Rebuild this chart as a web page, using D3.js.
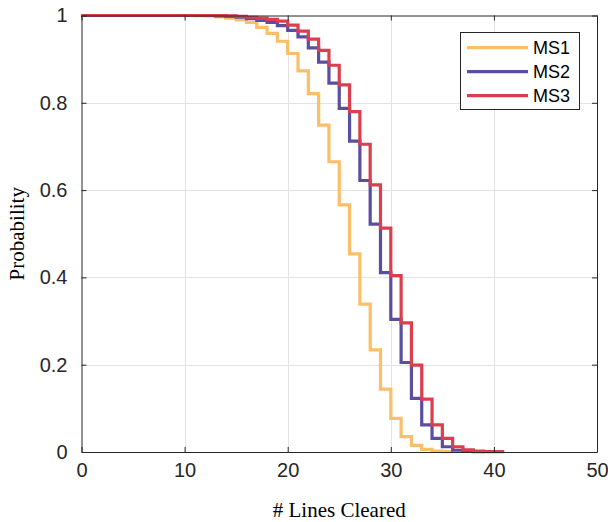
<!DOCTYPE html>
<html>
<head>
<meta charset="utf-8">
<script src="https://cdn.jsdelivr.net/npm/d3@7"></script>
<style>
  html, body { margin: 0; padding: 0; background: #fff; }
  svg { display: block; }
</style>
</head>
<body>
<svg id="chart" width="608" height="522"></svg>
<script>
// ---- data (value held on [k, k+1), k = 0,1,2,...; last entry repeats at the end x) ----
const seriesNames = ["MS1", "MS2", "MS3"];
const seriesColors = ["#fdbe68", "#5b4ea0", "#dc3e4e"];
const ms1 = [1,1,1,1,1,1,1,1,1,1,1, 0.9995,0.999,0.997,0.994,0.990,0.984,0.973,0.959,0.941,0.913,
             0.873,0.821,0.749,0.665,0.566,0.454,0.339,0.234,0.144,0.077,
             0.035,0.015,0.006,0.002,0.001,0.001];
const ms2 = [1,1,1,1,1,1,1,1,1,1,1,1,1, 0.999,0.998,0.996,0.993,0.989,0.984,0.977,0.966,
             0.951,0.926,0.893,0.845,0.787,0.712,0.622,0.522,0.411,0.304,
             0.205,0.123,0.062,0.031,0.012,0.004,0.002,0.001,0.001];
const ms3 = [1,1,1,1,1,1,1,1,1,1,1,1,1,1, 0.999,0.998,0.996,0.994,0.991,0.987,0.978,
             0.964,0.946,0.920,0.886,0.841,0.780,0.705,0.612,0.513,0.404,
             0.296,0.199,0.121,0.062,0.031,0.012,0.005,0.002,0.001,0.001,0.001];
const xTicks = [0, 10, 20, 30, 40, 50];
const yTicks = [0, 0.2, 0.4, 0.6, 0.8, 1];
const yTickLabels = ["0", "0.2", "0.4", "0.6", "0.8", "1"];
const xLabel = "# Lines Cleared";
const yLabel = "Probability";

const allSeries = [ms1, ms2, ms3];

// ---- layout ----
const svg = d3.select("#chart");
const pL = 81.5, pR = 597, pT = 15.5, pB = 452;
const x = d3.scaleLinear().domain([0, 50]).range([pL, pR]);
const y = d3.scaleLinear().domain([0, 1]).range([pB, pT]);

const tickFont = "'Liberation Sans', Arial, Helvetica, sans-serif";
const serifFont = "'Liberation Serif', 'Times New Roman', serif";

// grid
const grid = svg.append("g");
grid.selectAll("line.vx").data(xTicks.slice(1, -1)).join("line")
  .attr("x1", d => Math.round(x(d)) + 0.5).attr("x2", d => Math.round(x(d)) + 0.5)
  .attr("y1", pT).attr("y2", pB)
  .attr("stroke", "#e3e3e3").attr("stroke-width", 1);
grid.selectAll("line.hy").data(yTicks.slice(1, -1)).join("line")
  .attr("y1", d => Math.round(y(d)) + 0.5).attr("y2", d => Math.round(y(d)) + 0.5)
  .attr("x1", pL).attr("x2", pR)
  .attr("stroke", "#e3e3e3").attr("stroke-width", 1);

// axes (MATLAB box style with inward ticks)
const tickLen = 5;
const axBottom = d3.axisBottom(x).tickValues(xTicks).tickSizeInner(-tickLen).tickSizeOuter(0).tickPadding(11);
const axTop = d3.axisTop(x).tickValues(xTicks).tickSizeInner(-tickLen).tickSizeOuter(0).tickFormat("");
const axLeft = d3.axisLeft(y).tickValues(yTicks).tickSizeInner(-tickLen).tickSizeOuter(0).tickPadding(14)
  .tickFormat((d, i) => yTickLabels[i]);
const axRight = d3.axisRight(y).tickValues(yTicks).tickSizeInner(-tickLen).tickSizeOuter(0).tickFormat("");

function styleAxis(g) {
  g.select(".domain").attr("stroke", "#262626");
  g.selectAll(".tick line").attr("stroke", "#262626");
  g.selectAll(".tick text").attr("fill", "#262626").style("font-family", tickFont).style("font-size", "20px");
}

// lines
const line = d3.line()
  .x((d, i) => x(i))
  .y(d => y(d))
  .curve(d3.curveStepAfter);

svg.append("g").selectAll("path").data(allSeries).join("path")
  .attr("d", d => line(d))
  .attr("fill", "none")
  .attr("stroke", (d, i) => seriesColors[i])
  .attr("stroke-width", 3.2)
  .attr("stroke-linejoin", "miter");

svg.append("g").attr("transform", `translate(0,${pB})`).call(axBottom).call(styleAxis);
svg.append("g").attr("transform", `translate(0,${pT})`).call(axTop).call(styleAxis);
svg.append("g").attr("transform", `translate(${pL},0)`).call(axLeft).call(styleAxis);
svg.append("g").attr("transform", `translate(${pR},0)`).call(axRight).call(styleAxis);

// axis titles
svg.append("text")
  .attr("x", (pL + pR) / 2).attr("y", 517)
  .attr("text-anchor", "middle")
  .style("font-family", serifFont).style("font-size", "21px").attr("fill", "#000")
  .text(xLabel);
svg.append("text")
  .attr("transform", `translate(24,${(pT + pB) / 2}) rotate(-90)`)
  .attr("text-anchor", "middle")
  .style("font-family", serifFont).style("font-size", "21px").attr("fill", "#000")
  .text(yLabel);

// legend
const lg = svg.append("g");
lg.append("rect")
  .attr("x", 460.5).attr("y", 32.5).attr("width", 119).attr("height", 77)
  .attr("fill", "#fff").attr("stroke", "#262626").attr("stroke-width", 1);
seriesNames.forEach((name, i) => {
  const yy = 47.7 + i * 24;
  lg.append("line")
    .attr("x1", 467).attr("x2", 528).attr("y1", yy).attr("y2", yy)
    .attr("stroke", seriesColors[i]).attr("stroke-width", 3.2);
  lg.append("text")
    .attr("x", 533).attr("y", yy).attr("dy", "0.35em")
    .style("font-family", tickFont).style("font-size", "18px").attr("fill", "#000")
    .text(name);
});
</script>
</body>
</html>
